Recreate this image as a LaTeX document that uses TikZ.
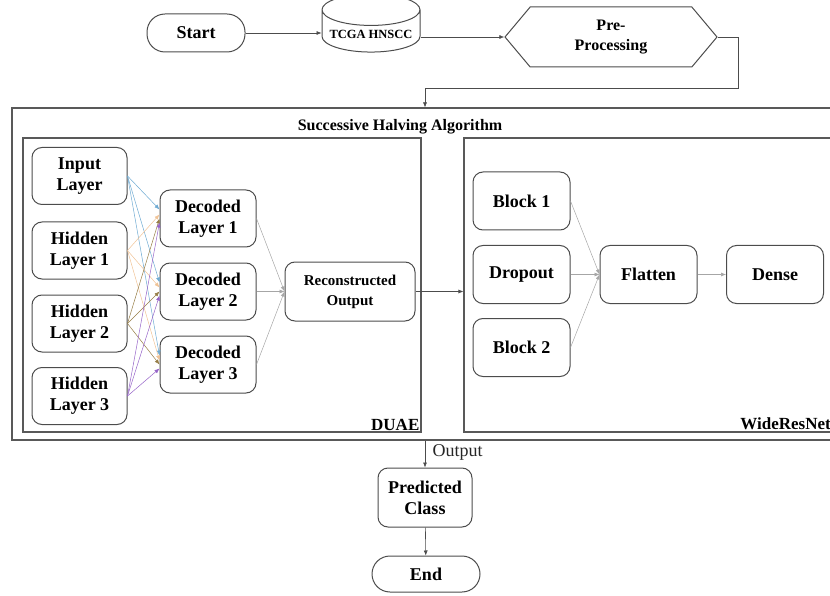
\documentclass[tikz,border=0pt]{standalone}
\usepackage{fontspec}
\setmainfont{Liberation Serif}
\usetikzlibrary{shapes.geometric,shapes.symbols,arrows.meta,calc}

\tikzset{
  box/.style={draw=black!70, line width=1pt, rounded corners=10pt, align=center,
    font=\fontsize{18}{21}\selectfont\bfseries, minimum width=96pt, minimum height=57pt},
  pill/.style={box, rounded corners=18pt, minimum height=38pt},
  frame/.style={draw=black!65, line width=1.1pt},
  arr/.style={-{Latex[length=5pt,width=4pt]}, black!70, line width=0.6pt},
  thinarr/.style={-{Latex[length=5pt,width=4pt]}, black!35, line width=0.5pt},
}
\definecolor{fanA}{RGB}{110,170,210}
\definecolor{fanB}{RGB}{240,195,150}
\definecolor{fanC}{RGB}{150,125,70}
\definecolor{fanD}{RGB}{150,100,200}

\begin{document}
\begin{tikzpicture}[x=1pt,y=-1pt]
  \useasboundingbox (0,0) rectangle (830,596);

  % top row
  \node[pill, minimum width=98pt] (start) at (196,33) {Start};
  \node[cylinder, shape border rotate=90, draw=black!70, line width=1pt, aspect=0.35,
    minimum width=98pt, minimum height=58pt, font=\fontsize{12.5}{14}\selectfont\bfseries] (tcga) at (371,34) {TCGA HNSCC};
  \node[signal, signal to=west and east, signal pointer angle=100, draw=black!70, line width=1pt,
    minimum width=212pt, minimum height=60pt, align=center, font=\fontsize{16}{20}\selectfont\bfseries] (prep) at (611,37) {Pre-\\Processing};

  % outer boxes
  \node[frame, minimum width=822pt, minimum height=332pt] (sha) at (423,274) {};
  \node[frame, minimum width=398pt, minimum height=294pt] (duae) at (222,285) {};
  \node[frame, minimum width=376pt, minimum height=294pt] (wrn) at (652,285) {};
  \node[font=\fontsize{16}{18}\selectfont\bfseries] (shatitle) at (400,127) {Successive Halving Algorithm};
  \node[font=\fontsize{17}{18}\selectfont\bfseries, anchor=south east, inner sep=2pt] (duaelbl) at (duae.south east) {DUAE};
  \node[font=\fontsize{17}{18}\selectfont\bfseries, anchor=south east, inner sep=2pt] (wrnlbl) at (833,432) {WideResNet};

  % DUAE
  \node[box, minimum width=95pt] (inp) at (79.5,176) {Input\\Layer};
  \node[box, minimum width=95pt] (h1) at (79.5,250.5) {Hidden\\Layer 1};
  \node[box, minimum width=95pt] (h2) at (79.5,323.5) {Hidden\\Layer 2};
  \node[box, minimum width=95pt] (h3) at (79.5,396) {Hidden\\Layer 3};
  \node[box] (d1) at (208,218.5) {Decoded\\Layer 1};
  \node[box] (d2) at (208,291.5) {Decoded\\Layer 2};
  \node[box] (d3) at (208,364.5) {Decoded\\Layer 3};
  \node[box, minimum width=130pt, minimum height=59pt, font=\fontsize{15}{20}\selectfont\bfseries] (rec) at (350,291.5) {Reconstructed\\Output};

  \foreach \s/\c/\o in {inp/fanA/-6, h1/fanB/-1, h2/fanC/3, h3/fanD/7}
    \foreach \d in {d1,d2,d3}
      \draw[-{Latex[length=5pt,width=4pt]}, \c, line width=0.5pt] (\s.east) -- ($(\d.west)+(0,\o-3)$);

  \foreach \d in {d1,d2,d3}
    \draw[thinarr] (\d.east) -- (rec.west);

  % WideResNet
  \node[box, minimum width=97pt, minimum height=58pt] (b1) at (521.5,201) {Block 1};
  \node[box, minimum width=97pt, minimum height=58pt] (drop) at (521.5,274.5) {Dropout};
  \node[box, minimum width=97pt, minimum height=58pt] (b2) at (521.5,347.5) {Block 2};
  \node[box, minimum width=97pt, minimum height=58pt] (flat) at (648.5,274.5) {Flatten};
  \node[box, minimum width=97pt, minimum height=58pt] (dense) at (775,274.5) {Dense};
  \foreach \b in {b1,drop,b2}
    \draw[thinarr] (\b.east) -- (flat.west);
  \draw[thinarr] (flat) -- (dense);

  % bottom
  \node[box, minimum width=94pt, minimum height=59pt] (pred) at (425,497.5) {Predicted\\Class};
  \node[pill, minimum width=108pt, minimum height=36pt] (end) at (426,574) {End};

  % flow
  \draw[arr] (start) -- (start -| tcga.west);
  \draw[arr] (tcga.east |- prep) -- (prep.west);
  \draw[arr] (prep.east) -- ++(21,0) |- (425,88) -- (sha.north -| pred);
  \draw[arr] (rec.east) -- (rec.east -| wrn.west);
  \draw[arr] (sha.south -| pred) -- node[right, text=black!85, font=\fontsize{18}{20}\selectfont, pos=0.45, xshift=4pt] (outlbl) {Output} (pred.north);
  \draw[arr] (pred) -- (end);
\end{tikzpicture}
\end{document}
